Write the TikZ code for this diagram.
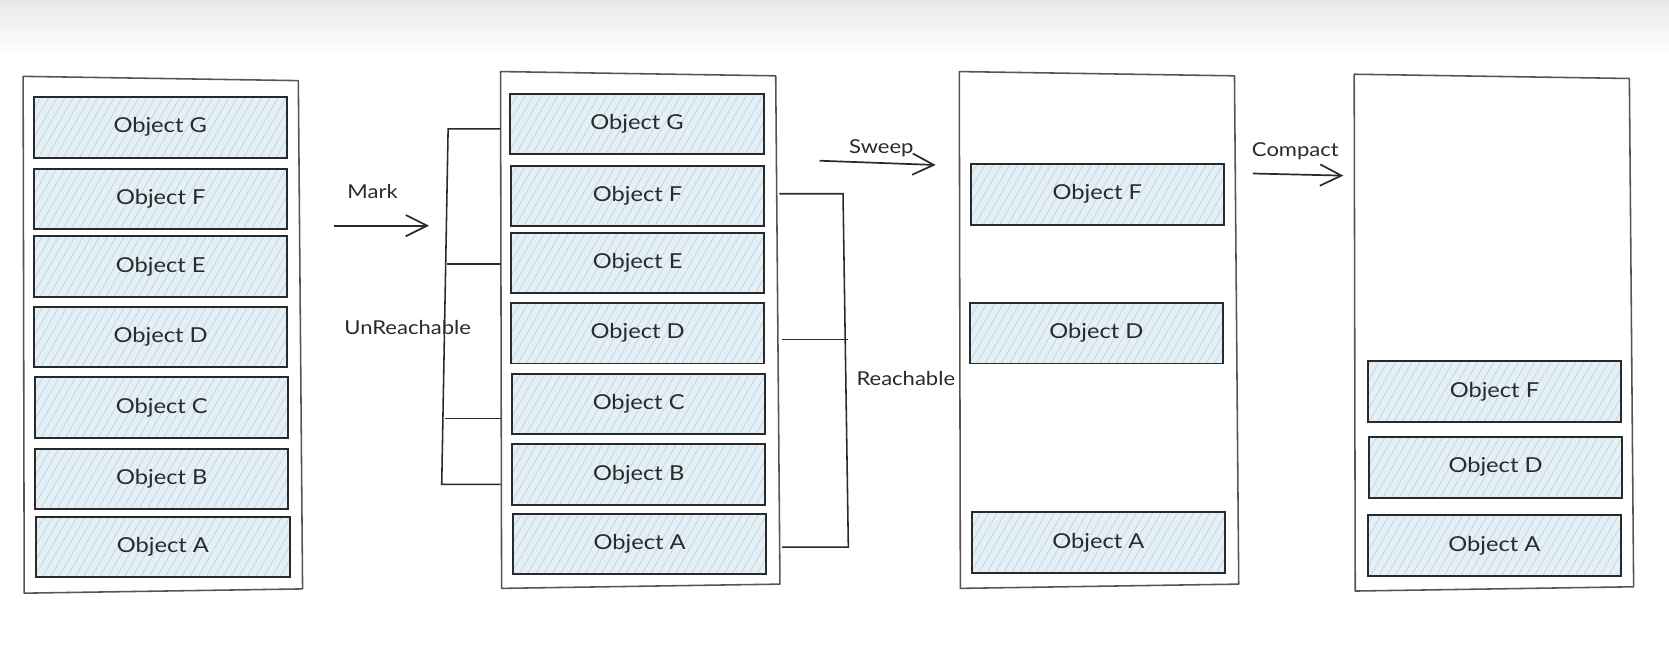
\documentclass[tikz,border=0pt]{standalone}
\usepackage{fontspec}
\setmainfont[FakeStretch=1.15]{Lato}
\usetikzlibrary{arrows.meta,patterns.meta,calc}

\definecolor{ink}{HTML}{2A2A2A}
\definecolor{frameink}{HTML}{555555}
\definecolor{objfill}{HTML}{E4EFF6}
\definecolor{hatch}{HTML}{BCD2E0}

\tikzset{
  panel/.style={minimum width=195pt, minimum height=363pt, inner sep=0pt, draw=none},
  frameline/.style={draw=frameink, line width=1.1pt, line join=round},
  obj/.style={preaction={fill=objfill},
    pattern={Lines[angle=60,distance=5pt,line width=0.45pt]}, pattern color=hatch,
    draw=ink, line width=1.4pt,
    minimum width=178.5pt, minimum height=42.75pt, inner sep=0pt,
    font=\fontsize{14.5}{16}\selectfont, text=ink},
  lbl/.style={font=\fontsize{13.5}{15}\selectfont, text=ink, inner sep=1pt},
  conn/.style={draw=ink, line width=1.1pt, line join=miter},
  arr/.style={draw=ink, line width=1.2pt, -{Straight Barb[length=15pt,width=15pt,line width=1.2pt]}},
}

% hand-drawn looking outline around a panel node
\newcommand{\sketchframe}[1]{%
  \draw[frameline] (#1.north west) -- ([shift={(-2,4)}]#1.north east)
    -- ([shift={(2,-3)}]#1.south east) -- ([shift={(1,1)}]#1.south west) -- cycle;}

\begin{document}
\begin{tikzpicture}[x=0.75pt,y=-0.75pt]
  \fill[white] (0,0) rectangle (1568,611);
  \shade[top color=black!9, bottom color=white] (0,0) rectangle (1568,52);
  \useasboundingbox (0,0) rectangle (1568,611);

  % heap panels
  \node[panel] (p1) at (152,314) {};
  \node[panel] (p2) at (600.5,309.5) {};
  \node[panel] (p3) at (1031.5,309.5) {};
  \node[panel] (p4) at (1402.5,312) {};
  \sketchframe{p1}
  \sketchframe{p2}
  \sketchframe{p3}
  \sketchframe{p4}

  % heap before marking
  \node[obj] (g1) at (150.5,119.5) {Object G};
  \node[obj] (f1) at (151,187)   {Object F};
  \node[obj] (e1) at (151,250.5) {Object E};
  \node[obj] (d1) at (151,316.5) {Object D};
  \node[obj] (c1) at (152,383)   {Object C};
  \node[obj] (b1) at (152,450)   {Object B};
  \node[obj] (a1) at (153,514)   {Object A};

  % heap after marking
  \node[obj] (g2) at (598.5,116.5) {Object G};
  \node[obj] (f2) at (599,184)   {Object F};
  \node[obj] (e2) at (599,247)   {Object E};
  \node[obj] (d2) at (599,313)   {Object D};
  \node[obj] (c2) at (600,379.5) {Object C};
  \node[obj] (b2) at (600,446)   {Object B};
  \node[obj] (a2) at (601,511)   {Object A};

  % heap after sweeping
  \node[obj] (f3) at (1031,182.5) {Object F};
  \node[obj] (d3) at (1030,313)   {Object D};
  \node[obj] (a3) at (1032,509.5) {Object A};

  % heap after compacting
  \node[obj] (f4) at (1404,368)   {Object F};
  \node[obj] (d4) at (1405,439)   {Object D};
  \node[obj] (a4) at (1404,512.5) {Object A};

  % phase arrows
  \coordinate (m1) at (314,212);  \coordinate (m2) at (403,212);
  \coordinate (s1) at (770,151);  \coordinate (s2) at (879,155);
  \coordinate (k1) at (1177,163); \coordinate (k2) at (1262,165);
  \draw[arr] (m1) -- (m2);
  \draw[arr] (s1) -- (s2);
  \draw[arr] (k1) -- (k2);
  \node[lbl] (mark) at (350,180) {Mark};
  \node[lbl] (sweep) at (828,139) {Sweep};
  \node[lbl] (compact) at (1217,142) {Compact};

  % unreachable objects bracket
  \coordinate (u1) at (421,121);
  \coordinate (u2) at (415,455);
  \coordinate (u3) at (420,248);
  \coordinate (u4) at (418,393);
  \draw[conn] (p2.west |- u1) -- (u1) -- (u2) -- (p2.west |- u2);
  \draw[conn] (u3) -- (p2.west |- u3);
  \draw[conn] (u4) -- (p2.west |- u4);
  \node[lbl] (unreach) at (383,308) {UnReachable};

  % reachable objects bracket
  \coordinate (r1) at (792,182);
  \coordinate (r2) at (797,514);
  \coordinate (r3) at (797,319);
  \draw[conn] ([xshift=1pt]p2.east |- r1) -- (r1) -- (r2) -- ([xshift=3pt]p2.east |- r2);
  \draw[conn] ([xshift=3pt]p2.east |- r3) -- (r3);
  \node[lbl] (reach) at (851,356) {Reachable};
\end{tikzpicture}
\end{document}
